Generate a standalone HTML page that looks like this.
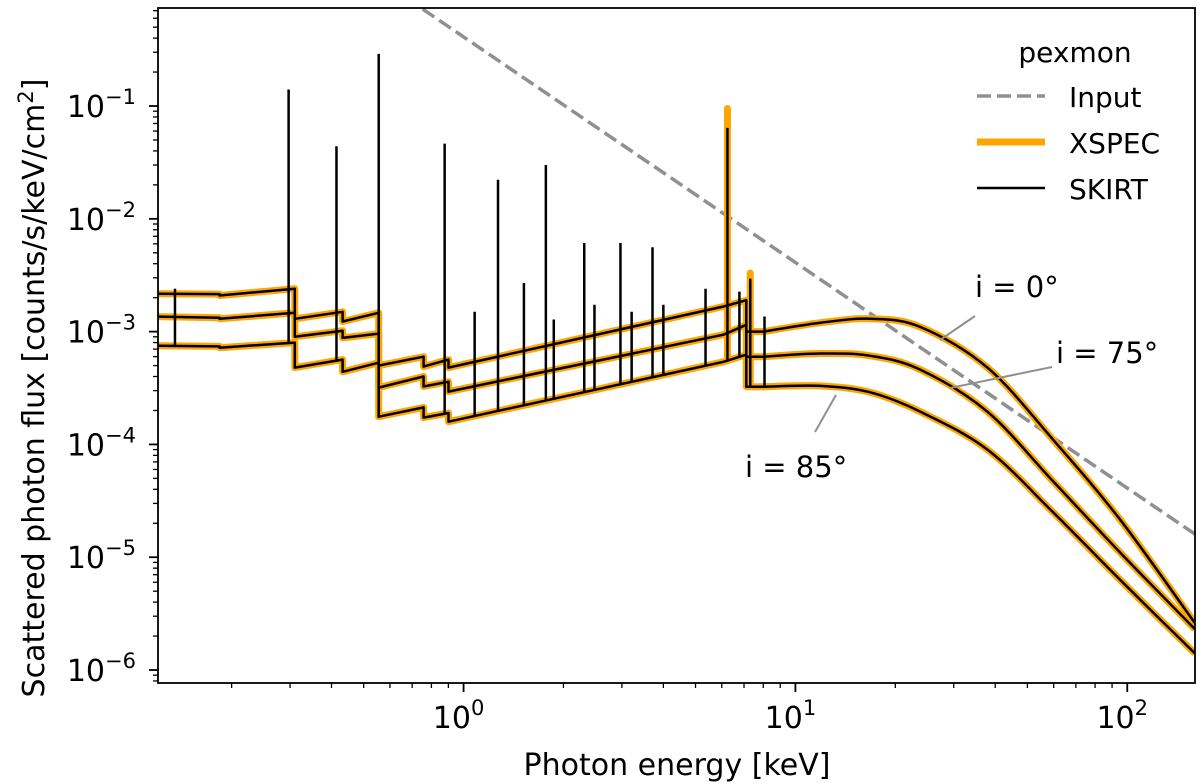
<!DOCTYPE html>
<html><head><meta charset="utf-8"><style>
html,body{margin:0;padding:0;background:#fff;}
svg{display:block;font-family:"DejaVu Sans","Liberation Sans",sans-serif;}
</style></head><body>
<svg id="chart" width="1200" height="784" viewBox="0 0 1200 784" xmlns="http://www.w3.org/2000/svg">
<g id="plot"></g>
</svg>
<script>
const energies = [0.12,0.184,0.184,0.31,0.31,0.432,0.432,0.555,0.555,0.758,0.758,0.901,0.901,6.07,7.11,7.11,8.01,11.9,16.8,23.8,37.9,59.8,95.2,160];
const fluxI0  = [2.17e-3,2.15e-3,2.09e-3,2.40e-3,1.30e-3,1.50e-3,1.23e-3,1.47e-3,5.0e-4,6.0e-4,4.9e-4,5.65e-4,4.8e-4,1.67e-3,1.9e-3,1.0e-3,1.0e-3,1.2e-3,1.3e-3,1.1e-3,4.8e-4,1.1e-4,2.15e-5,2.6e-6];
const fluxI75 = [1.36e-3,1.33e-3,1.30e-3,1.47e-3,9.0e-4,1.02e-3,8.8e-4,9.6e-4,3.19e-4,4.0e-4,3.26e-4,3.6e-4,2.94e-4,9.4e-4,1.15e-3,6.0e-4,6.0e-4,6.4e-4,6.1e-4,4.6e-4,1.95e-4,4.7e-5,1.1e-5,2.3e-6];
const fluxI85 = [7.5e-4,7.4e-4,7.2e-4,8.0e-4,4.8e-4,5.65e-4,4.4e-4,5.3e-4,1.76e-4,2.13e-4,1.73e-4,1.9e-4,1.59e-4,5.4e-4,6.25e-4,3.25e-4,3.25e-4,3.3e-4,2.9e-4,1.95e-4,9.0e-5,2.5e-5,6.3e-6,1.4e-6];
const lineEnergies = [0.135,0.297,0.414,0.555,0.877,1.08,1.27,1.52,1.77,1.87,2.31,2.48,2.97,3.21,3.71,4.0,5.36,6.24,6.78,7.31,8.07];
const linePeaks = [2.4e-3,0.14,0.044,0.29,0.0464,1.5e-3,0.0222,2.7e-3,0.030,1.28e-3,6.1e-3,1.73e-3,6.1e-3,1.5e-3,5.6e-3,1.73e-3,2.4e-3,0.064,2.26e-3,2.95e-3,1.36e-3];
const xspecFePeak = [6.24, 0.095];
const xspecFe2Peak = [7.31, 3.3e-3];
const inputNorm = 0.41, inputIndex = 2;
const xTicks = [1,10,100];
const xTickLabels = ["0","1","2"];
const yTicks = [1e-6,1e-5,1e-4,1e-3,1e-2,1e-1];
const yTickLabels = ["−6","−5","−4","−3","−2","−1"];

const L=158,R=1195,T=8,B=683;
const xmin=Math.log10(0.12), xmax=Math.log10(160);
const ymin=-6.115, ymax=-0.131;
const X=e=>L+(Math.log10(e)-xmin)/(xmax-xmin)*(R-L);
const Y=f=>B-(Math.log10(f)-ymin)/(ymax-ymin)*(B-T);
const NS="http://www.w3.org/2000/svg";
const svg=document.getElementById('chart');
const plot=document.getElementById('plot');
function mk(tag,attrs,parent){const el=document.createElementNS(NS,tag);for(const k in attrs)el.setAttribute(k,attrs[k]);(parent||svg).appendChild(el);return el;}

const defs=mk('defs',{});
const cp=mk('clipPath',{id:'clip'},defs);
mk('rect',{x:L,y:T,width:R-L,height:B-T},cp);
plot.setAttribute('clip-path','url(#clip)');

const inp=mk('line',{x1:X(0.12),y1:Y(inputNorm*Math.pow(0.12,-inputIndex)),x2:X(160),y2:Y(inputNorm*Math.pow(160,-inputIndex)),stroke:'#909090','stroke-width':3.5,'stroke-dasharray':'14,6'},plot);



function interp(arr,e){for(let i=energies.length-1;i>0;i--){if(e>=energies[i-1]&&e<=energies[i]){const a=Math.log10(energies[i-1]),b=Math.log10(energies[i]);const t=b===a?0:(Math.log10(e)-a)/(b-a);return Math.pow(10,Math.log10(arr[i-1])+t*(Math.log10(arr[i])-Math.log10(arr[i-1])));}}return arr[0];}
const SMOOTH_FROM=16;
function pathOf(arr){
  let d='';
  for(let i=0;i<=SMOOTH_FROM;i++)d+=(i?'L':'M')+X(energies[i]).toFixed(1)+','+Y(arr[i]).toFixed(1)+' ';
  const P=[];for(let i=SMOOTH_FROM;i<energies.length;i++)P.push([X(energies[i]),Y(arr[i])]);
  for(let i=0;i<P.length-1;i++){
    const p0=P[Math.max(0,i-1)],p1=P[i],p2=P[i+1],p3=P[Math.min(P.length-1,i+2)];
    const c1=[p1[0]+(p2[0]-p0[0])/6,p1[1]+(p2[1]-p0[1])/6];
    const c2=[p2[0]-(p3[0]-p1[0])/6,p2[1]-(p3[1]-p1[1])/6];
    d+='C'+c1[0].toFixed(1)+','+c1[1].toFixed(1)+' '+c2[0].toFixed(1)+','+c2[1].toFixed(1)+' '+p2[0].toFixed(1)+','+p2[1].toFixed(1)+' ';
  }
  return d;
}
const series=[['i0',fluxI0],['i75',fluxI75],['i85',fluxI85]];
series.forEach(([n,arr])=>{const p=mk('path',{d:pathOf(arr),fill:'none',stroke:'#ffa500','stroke-width':7,'stroke-linejoin':'round'},plot);

});
[xspecFePeak,xspecFe2Peak].forEach((pk,k)=>{const l=mk('line',{x1:X(pk[0]),x2:X(pk[0]),y1:Y(interp(fluxI85,pk[0])),y2:Y(pk[1]),stroke:'#ffa500','stroke-width':7,'stroke-linecap':'round'},plot);

});
series.forEach(([n,arr])=>{const p=mk('path',{d:pathOf(arr),fill:'none',stroke:'#000','stroke-width':2.5,'stroke-linejoin':'round'},plot);

});
lineEnergies.forEach((e,i)=>{const l=mk('line',{x1:X(e),x2:X(e),y1:Y(interp(fluxI85,e)),y2:Y(linePeaks[i]),stroke:'#000','stroke-width':2.5},plot);

});

const fr=mk('rect',{x:L,y:T,width:R-L,height:B-T,fill:'none',stroke:'#000','stroke-width':1.8});



for(let d=-1;d<=2;d++)for(let m=1;m<10;m++){const e=m*Math.pow(10,d);if(e<0.12||e>160)continue;const x=X(e);mk('line',{x1:x,x2:x,y1:B,y2:B+(m===1?9:5),stroke:'#000','stroke-width':m===1?1.8:1.3});}
xTicks.forEach((e,i)=>{const t=mk('text',{x:X(e)-5,y:728,'font-size':30,'text-anchor':'middle'});


t.innerHTML='10<tspan dy="-13" font-size="21">'+xTickLabels[i]+'</tspan>';});
for(let d=-7;d<=0;d++)for(let m=1;m<10;m++){const f=m*Math.pow(10,d);const lf=Math.log10(f);if(lf<ymin||lf>ymax)continue;const y=Y(f);mk('line',{x1:L-(m===1?9:5),x2:L,y1:y,y2:y,stroke:'#000','stroke-width':m===1?1.8:1.3});}
yTicks.forEach((f,i)=>{const t=mk('text',{x:136,y:Y(f)+11,'font-size':30,'text-anchor':'end'});


t.innerHTML='10<tspan dy="-13" font-size="21">'+yTickLabels[i]+'</tspan>';});

const xl=mk('text',{x:677,y:775,'font-size':30,'text-anchor':'middle'});
xl.textContent='Photon energy [keV]';


const yl=mk('text',{x:0,y:0,'font-size':30,'text-anchor':'middle',transform:'translate(44,388) rotate(-90)'});
yl.innerHTML='Scattered photon flux [counts/s/keV/cm<tspan dy="-11" font-size="21">2</tspan><tspan dy="11">]</tspan>';



const ann=[['i = 0°',975,297,[975,316,940,340]],['i = 75°',1056,363,[1052,367,950,388]],['i = 85°',745,477,[836,395,815,432]]];
ann.forEach(a=>{const l=mk('line',{x1:a[3][0],y1:a[3][1],x2:a[3][2],y2:a[3][3],stroke:'#909090','stroke-width':2});


const t=mk('text',{x:a[1],y:a[2],'font-size':29});t.textContent=a[0];

});

const lg=mk('g',{});


const lt=mk('text',{x:1075,y:62,'font-size':28,'text-anchor':'middle'},lg);lt.textContent='pexmon';
const ents=[['Input',96,{stroke:'#909090','stroke-width':3.5,'stroke-dasharray':'14,6'}],['XSPEC',142,{stroke:'#ffa500','stroke-width':7}],['SKIRT',188,{stroke:'#000','stroke-width':2.5}]];
ents.forEach(en=>{const g=mk('g',{},lg);


const a=Object.assign({x1:977,x2:1045,y1:en[1],y2:en[1]},en[2]);mk('line',a,g);
const t=mk('text',{x:1069,y:en[1]+11,'font-size':28},g);t.textContent=en[0];});
</script>
</body></html>
